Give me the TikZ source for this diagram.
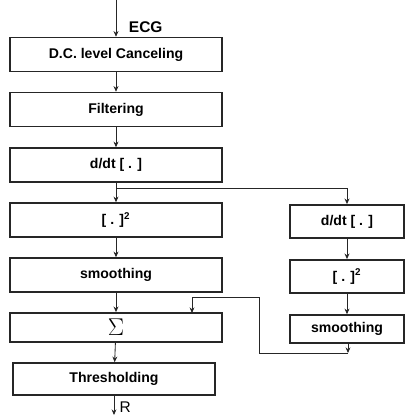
\documentclass[tikz,border=0pt]{standalone}
\usepackage{amsmath,amssymb}
\usepackage{fontspec}
\setmainfont{Liberation Sans}
\usepackage{tikz}
\usetikzlibrary{arrows.meta, positioning, calc}

\begin{document}
\begin{tikzpicture}[
    x=0.025cm, y=-0.025cm,
    block/.style={rectangle, draw=black!85, line width=1.1pt, minimum width=5.3cm, minimum height=0.85cm, inner sep=0pt, font=\fontsize{10}{12}\selectfont\bfseries},
    sideblock/.style={block, minimum width=2.85cm},
    arrow/.style={-{Stealth[length=4pt,width=3.5pt]}, line width=0.6pt, draw=black!85}
]
    \useasboundingbox (0,0) rectangle (406,415);

    % Main chain
    \node[block] (dc) at (116, 54.5) {D.C. level Canceling};
    \node[block] (filt) at (116, 109.5) {Filtering};
    \node[block] (ddt) at (116, 165) {d/dt [ . ]};
    \node[block] (sq) at (116, 220) {[ . ]$^{\mathbf 2}$};
    \node[block] (smooth) at (116, 275) {smoothing};
    \node[block, minimum height=0.73cm] (sum) at (116, 327.5) {\LARGE$\Sigma$};
    \node[block, minimum width=5.05cm, minimum height=0.8cm] (thr) at (114, 379) {Thresholding};

    % Side chain
    \node[sideblock, minimum height=0.83cm] (rddt) at (347, 221.5) {d/dt [ . ]};
    \node[sideblock, minimum height=0.83cm] (rsq) at (347, 276.5) {[ . ]$^{\mathbf 2}$};
    \node[sideblock, minimum height=0.7cm] (rsmooth) at (347, 329) {smoothing};

    % Input and output
    \coordinate (ecg) at (116, 0);
    \coordinate (rpeak) at (114, 415);
    \draw[arrow] (ecg) -- (dc.north);
    \node[anchor=west, font=\fontsize{11}{12}\selectfont\bfseries] (ecglabel) at (124, 27) {ECG};
    \draw[arrow] (thr.south) -- (rpeak);
    \node[anchor=south west, inner sep=1pt, font=\fontsize{11}{12}\selectfont] (rlabel) at (118, 414) {R};

    % Main connections
    \draw[arrow] (dc) -- (filt);
    \draw[arrow] (filt) -- (ddt);
    \draw[arrow] (ddt) -- (sq);
    \draw[arrow] (sq) -- (smooth);
    \draw[arrow] (smooth) -- (sum);
    \draw[arrow] (sum) -- (thr);

    % Branch to side chain
    \coordinate (split) at (116, 188);
    \draw[arrow] (split) -| (rddt.north);
    \draw[arrow] (rddt) -- (rsq);
    \draw[arrow] (rsq) -- (rsmooth);

    % Return into the sum
    \coordinate (ret) at (348, 353);
    \coordinate (jn) at (259, 297);
    \coordinate (sumin) at (192, 313);
    \draw[arrow] (rsmooth.south -| ret) -- (ret);
    \draw[arrow] (ret) -| (jn) -| (sumin);

\end{tikzpicture}
\end{document}
